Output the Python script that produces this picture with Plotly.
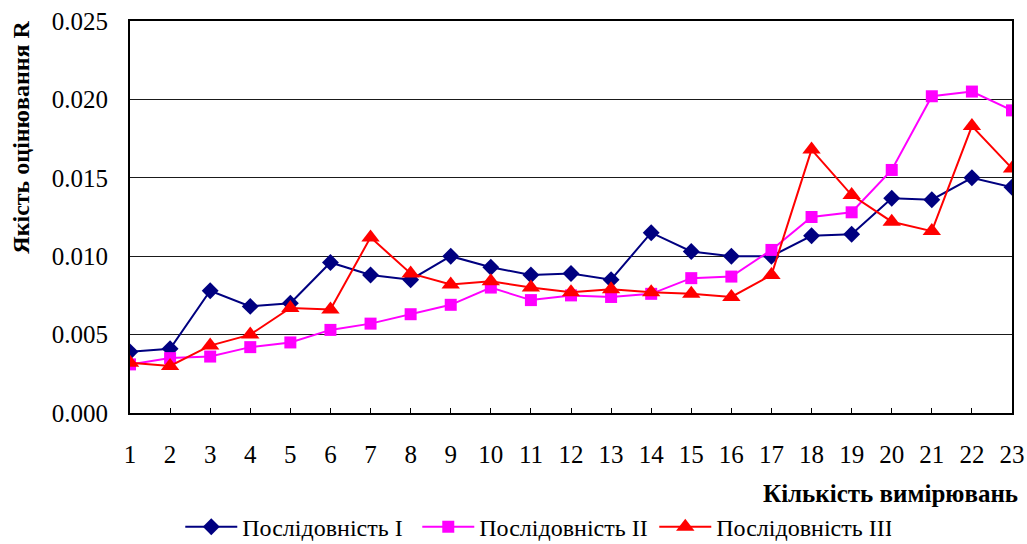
import plotly.graph_objects as go

# Measurement counts along the x axis
counts = list(range(1, 24))

# Quality estimate R for each sequence
seq_1 = [0.0039, 0.0041, 0.0078, 0.0068, 0.0070, 0.0096, 0.0088, 0.0085, 0.0100, 0.0093,
         0.0088, 0.0089, 0.0085, 0.0115, 0.0103, 0.0100, 0.0100, 0.0113, 0.0114, 0.0137,
         0.0136, 0.0150, 0.0144]
seq_2 = [0.0031, 0.0035, 0.0036, 0.0042, 0.0045, 0.0053, 0.0057, 0.0063, 0.0069, 0.0080,
         0.0072, 0.0075, 0.0074, 0.0076, 0.0086, 0.0087, 0.0104, 0.0125, 0.0128, 0.0155,
         0.0202, 0.0205, 0.0193]
seq_3 = [0.0032, 0.0030, 0.0043, 0.0050, 0.0067, 0.0066, 0.0112, 0.0089, 0.0082, 0.0084,
         0.0080, 0.0077, 0.0079, 0.0077, 0.0076, 0.0074, 0.0088, 0.0168, 0.0139, 0.0122,
         0.0116, 0.0183, 0.0156]

series_names = ["Послідовність I", "Послідовність II", "Послідовність III"]
y_ticks = [0.0, 0.005, 0.010, 0.015, 0.020, 0.025]
y_tick_text = ["0.000", "0.005", "0.010", "0.015", "0.020", "0.025"]

FONT = "Liberation Serif, Times New Roman, serif"

fig = go.Figure()
fig.add_trace(go.Scatter(
    x=counts, y=seq_1, name=series_names[0], mode="lines+markers",
    line=dict(color="#000080", width=2),
    marker=dict(symbol="diamond", size=13, color="#000080"),
))
fig.add_trace(go.Scatter(
    x=counts, y=seq_2, name=series_names[1], mode="lines+markers",
    line=dict(color="#FF00FF", width=2),
    marker=dict(symbol="square", size=12, color="#FF00FF"),
))
fig.add_trace(go.Scatter(
    x=counts, y=seq_3, name=series_names[2], mode="lines+markers",
    line=dict(color="#FF0000", width=2),
    marker=dict(symbol="triangle-up", size=16, color="#FF0000"),
))

fig.update_layout(
    width=1027, height=544,
    margin=dict(l=130, r=15, t=21, b=131, autoexpand=False),
    paper_bgcolor="white", plot_bgcolor="white",
    font=dict(family=FONT, size=25, color="black"),
    showlegend=True,
    legend=dict(
        orientation="h", x=0.057, xanchor="left",
        yref="container", y=0.031, yanchor="middle",
        font=dict(family=FONT, size=24, color="black"),
        tracegroupgap=0, itemwidth=52,
        entrywidth=170, entrywidthmode="pixels",
    ),
    xaxis=dict(
        range=[1, 23], tickvals=counts, ticktext=[str(c) for c in counts],
        showgrid=False, zeroline=False,
        showline=True, linecolor="black", linewidth=2, mirror=True,
        ticks="inside", ticklen=5, tickcolor="black",
        ticklabelstandoff=18,
        tickfont=dict(family=FONT, size=25),
    ),
    yaxis=dict(
        range=[0, 0.025], tickvals=y_ticks, ticktext=y_tick_text,
        showgrid=True, gridcolor="#1a1a1a", gridwidth=1, zeroline=False,
        showline=True, linecolor="black", linewidth=2, mirror=True,
        ticks="", ticklabelstandoff=15,
        tickfont=dict(family=FONT, size=25),
    ),
    annotations=[
        dict(text="<b>Якість оцінювання R</b>", xref="paper", yref="paper",
             x=-0.124, y=0.704, xanchor="center", yanchor="middle",
             textangle=-90, showarrow=False,
             font=dict(family=FONT, size=24, color="black")),
        dict(text="<b>Кількість вимірювань</b>", xref="paper", yref="paper",
             x=1.009, y=-0.2066, xanchor="right", yanchor="middle",
             showarrow=False,
             font=dict(family=FONT, size=25, color="black")),
    ],
)

fig.write_html("out.html")
